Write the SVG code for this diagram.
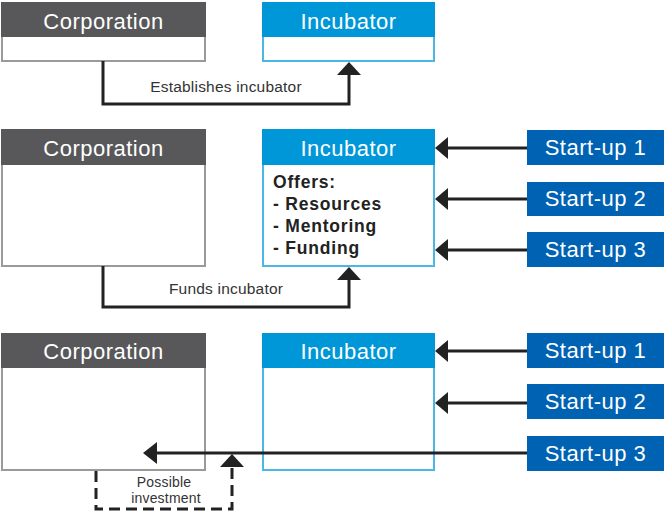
<svg xmlns="http://www.w3.org/2000/svg" width="664" height="513" viewBox="0 0 664 513">
<style>
.corpH{fill:#58585a}
.corpB{fill:#fff;stroke:#9a9a9a;stroke-width:2}
.incH{fill:#0097d8}
.incB{fill:#fff;stroke:#4cb7e6;stroke-width:2}
.su{fill:#0062b2}
.ht{font-family:"Liberation Sans",Arial,sans-serif;font-size:22px;letter-spacing:0.5px;fill:#fff;text-anchor:middle}
.lbl{font-family:"Liberation Sans",Arial,sans-serif;font-size:15.5px;letter-spacing:0.2px;fill:#333;text-anchor:middle}
.off{font-family:"Liberation Sans",Arial,sans-serif;font-size:17.5px;font-weight:bold;letter-spacing:0.8px;fill:#222}
.ln{fill:none;stroke:#222;stroke-width:3}
.dash{fill:none;stroke:#222;stroke-width:3;stroke-dasharray:11 6}
.ah{fill:#222}
</style>
<g id="corp1"><rect class="corpB" x="2" y="3" width="203" height="58"/><rect class="corpH" x="1" y="2" width="205" height="35"/><text class="ht" x="103.5" y="29">Corporation</text></g>
<g id="inc1"><rect class="incB" x="263" y="3" width="171" height="58"/><rect class="incH" x="262" y="2" width="173" height="35"/><text class="ht" x="348.5" y="29">Incubator</text></g>

<g id="corp2"><rect class="corpB" x="2" y="130" width="203" height="136"/><rect class="corpH" x="1" y="129" width="205" height="36"/><text class="ht" x="103.5" y="156">Corporation</text></g>
<g id="inc2"><rect class="incB" x="263" y="130" width="171" height="136"/><rect class="incH" x="262" y="129" width="173" height="36"/><text class="ht" x="348.5" y="156">Incubator</text>
<text class="off" x="273" y="188">Offers:</text><text class="off" x="273" y="210">- Resources</text><text class="off" x="273" y="232">- Mentoring</text><text class="off" x="273" y="254">- Funding</text></g>
<g id="su2a"><rect class="su" x="527" y="130" width="137" height="35"/><text class="ht" x="595.5" y="155">Start-up 1</text></g>
<g id="su2b"><rect class="su" x="527" y="182" width="137" height="34"/><text class="ht" x="595.5" y="206">Start-up 2</text></g>
<g id="su2c"><rect class="su" x="527" y="232" width="137" height="35"/><text class="ht" x="595.5" y="257">Start-up 3</text></g>

<g id="corp3"><rect class="corpB" x="2" y="334" width="203" height="136"/><rect class="corpH" x="1" y="333" width="205" height="35"/><text class="ht" x="103.5" y="359">Corporation</text></g>
<g id="inc3"><rect class="incB" x="263" y="334" width="171" height="136"/><rect class="incH" x="262" y="333" width="173" height="35"/><text class="ht" x="348.5" y="359">Incubator</text></g>
<g id="su3a"><rect class="su" x="527" y="333" width="137" height="35"/><text class="ht" x="595.5" y="358">Start-up 1</text></g>
<g id="su3b"><rect class="su" x="527" y="384" width="137" height="35"/><text class="ht" x="595.5" y="409">Start-up 2</text></g>
<g id="su3c"><rect class="su" x="527" y="436" width="137" height="35"/><text class="ht" x="595.5" y="461">Start-up 3</text></g>

<g id="connectors">
<path class="ln" d="M103 61 V104 H349 V72"/>
<polygon class="ah" points="349,62 337,75 361,75"/>
<text class="lbl" x="226" y="92">Establishes incubator</text>

<path class="ln" d="M103 266 V307 H349 V277"/>
<polygon class="ah" points="349,267 337,280 361,280"/>
<text class="lbl" x="226" y="294">Funds incubator</text>

<path class="ln" d="M527 148 H446"/><polygon class="ah" points="435,148 448,137 448,159"/>
<path class="ln" d="M527 199 H446"/><polygon class="ah" points="435,199 448,188 448,210"/>
<path class="ln" d="M527 250 H446"/><polygon class="ah" points="435,250 448,239 448,261"/>

<path class="ln" d="M527 351 H446"/><polygon class="ah" points="435,351 448,340 448,362"/>
<path class="ln" d="M527 403 H446"/><polygon class="ah" points="435,403 448,392 448,414"/>
<path class="ln" d="M527 453 H155"/><polygon class="ah" points="143,453 157,442 157,464"/>

<path class="dash" d="M96 471 V509 H232 V466"/>
<polygon class="ah" points="232,454 220,467 244,467"/>
<text class="lbl" x="164" y="487" style="font-size:14px;letter-spacing:0.2px">Possible</text>
<text class="lbl" x="166" y="503" style="font-size:14px;letter-spacing:0.2px">investment</text>
</g>
</svg>
